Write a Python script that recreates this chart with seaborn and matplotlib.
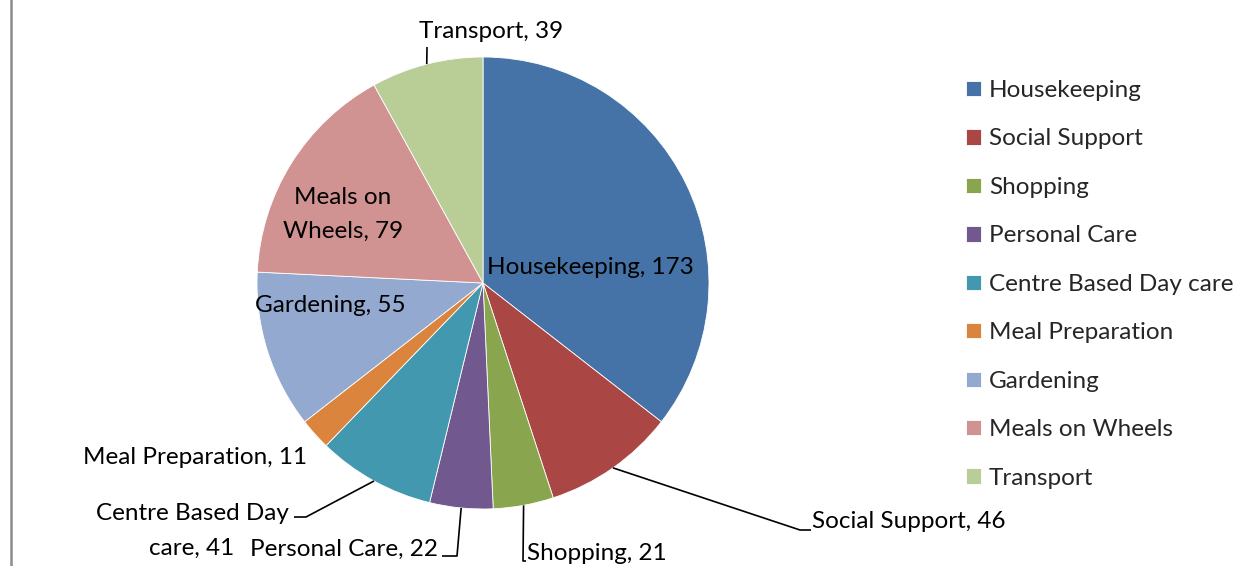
import matplotlib
matplotlib.use("Agg")
import matplotlib.pyplot as plt
import seaborn as sns
import numpy as np
from matplotlib.lines import Line2D

# Service counts
categories = ["Housekeeping", "Social Support", "Shopping", "Personal Care",
              "Centre Based Day care", "Meal Preparation", "Gardening",
              "Meals on Wheels", "Transport"]
counts = [173, 46, 21, 22, 41, 11, 55, 79, 39]
colors = ["#4572A7", "#AA4643", "#89A54E", "#71588F", "#4198AF",
          "#DB843D", "#93A9CF", "#D19392", "#B9CD96"]
label_names = {"Meals on Wheels": "Meals on\nWheels",
               "Centre Based Day care": "Centre Based Day\ncare"}

sns.set_theme(style="white")
plt.rcParams["font.family"] = ["Lato", "DejaVu Sans"]

W, H = 1247, 566
fig = plt.figure(figsize=(W / 100, H / 100), dpi=100)
ax = fig.add_axes([0, 0, 1, 1])

CX, CY, R = 483, H - 283, 226
wedges, _ = ax.pie(counts, colors=sns.color_palette(colors), startangle=90,
                   counterclock=False, center=(CX, CY), radius=R,
                   wedgeprops=dict(linewidth=0.6, edgecolor="white"))
ax.set_xlim(0, W)
ax.set_ylim(0, H)
ax.set_aspect("auto")
ax.axis("off")

FS = 17.5
LINE_PITCH = 34  # px between lines of a wrapped label
# label placement (pixel coords from top-left): x, y, alignment, leader elbows
layout = {
    "Housekeeping": (590, 268, "center", None),
    "Social Support": (812, 522, "left", [(800, 530), (811, 530)]),
    "Shopping": (527, 553, "left", [(523, 561), (526, 561)]),
    "Personal Care": (438, 549, "right", [(457, 556), (442, 556)]),
    "Centre Based Day care": (192, 531, "center", [(306, 517), (294, 517)]),
    "Meal Preparation": (307, 457, "right", None),
    "Gardening": (330, 305, "center", None),
    "Meals on Wheels": (343, 214, "center", None),
    "Transport": (491, 31, "center", [(427, 47)]),
}

for w, cat, val in zip(wedges, categories, counts):
    x, y, ha, elbows = layout[cat]
    lines = f"{label_names.get(cat, cat)}, {val}".split("\n")
    n = len(lines)
    for i, line in enumerate(lines):
        yi = y + (i - (n - 1) / 2) * LINE_PITCH
        ax.text(x, H - yi, line, ha=ha, va="center", fontsize=FS,
                color="black")
    if elbows:
        mid = np.deg2rad((w.theta1 + w.theta2) / 2)
        ax0 = CX + R * np.cos(mid)
        ay0 = CY + R * np.sin(mid)
        xs = [ax0] + [p[0] for p in elbows]
        ys = [ay0] + [H - p[1] for p in elbows]
        ax.plot(xs, ys, color="black", lw=1.2, solid_capstyle="butt")

ax.legend(wedges, categories, loc="upper left",
          bbox_to_anchor=(966 / W, 1 - 80 / H), frameon=False, fontsize=FS,
          handlelength=0.6, handleheight=0.6, handletextpad=0.35,
          labelspacing=1.13, borderpad=0, borderaxespad=0)

fig.add_artist(Line2D([11 / W, 11 / W], [0, 1], transform=fig.transFigure,
                      color="#8c8c8c", lw=1.8))

fig.savefig("out.png", dpi=100)
